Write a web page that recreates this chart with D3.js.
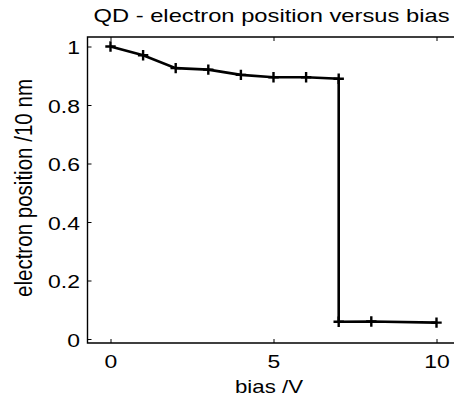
<!DOCTYPE html>
<meta charset="utf-8">
<style>
    body { margin: 0; background: #fff; }
    svg { font-family: "Liberation Sans", Arial, sans-serif; }
    .axis path, .axis line { fill: none; stroke: black; }
</style>
<body>
<script src="https://cdn.jsdelivr.net/npm/d3@7"></script>
<script>
    // values
    const bias = [0, 1, 2, 3, 4, 5, 6, 7, 7, 8, 10];
    const position = [1.0, 0.970, 0.926, 0.921, 0.903, 0.895, 0.895, 0.890, 0.059, 0.060, 0.056];
    const xTicks = [0, 5, 10];
    const yTicks = [0, 0.2, 0.4, 0.6, 0.8, 1];

    const width = 454, height = 401;
    const frame = {left: 87.5, top: 37, right: 470, bottom: 343};
    const stretch = 1.24; // glyphs in the source are drawn wider than tall

    const x = d3.scaleLinear().domain([0, 10]).range([110.5, 436.5]);
    const y = d3.scaleLinear().domain([0, 1]).range([339, 46.5]);

    const svg = d3.select('body').append('svg')
        .attr('width', width)
        .attr('height', height);

    // frame (top and left / bottom lines)
    svg.append('path')
        .attr('d', `M${frame.right},${frame.top}H${frame.left}V${frame.bottom}H${frame.right}`)
        .attr('fill', 'none')
        .attr('stroke', 'black')
        .attr('stroke-width', 1.4);

    // ticks, matlab style pointing inward
    const xAxis = d3.axisBottom(x).tickValues(xTicks).tickSize(-4).tickPadding(12);
    svg.append('g').attr('class', 'axis')
        .attr('transform', `translate(0,${frame.bottom})`)
        .call(xAxis)
        .call(g => g.select('.domain').remove())
        .selectAll('text')
        .style('font-size', '18.5px')
        .attr('fill', '#000')
        .attr('transform', `scale(${stretch},1)`);

    svg.append('g').attr('class', 'axis')
        .attr('transform', `translate(0,${frame.top})`)
        .call(d3.axisTop(x).tickValues(xTicks).tickSize(-4).tickFormat(''))
        .call(g => g.select('.domain').remove());

    const yAxis = d3.axisLeft(y).tickValues(yTicks).tickSize(-4).tickPadding(8)
        .tickFormat(d => d === 0 || d === 1 ? d3.format('d')(d) : d3.format('.1f')(d));
    svg.append('g').attr('class', 'axis')
        .attr('transform', `translate(${frame.left},0)`)
        .call(yAxis)
        .call(g => g.select('.domain').remove())
        .selectAll('text')
        .style('font-size', '18.5px')
        .attr('fill', '#000')
        .attr('x', 0)
        .attr('dy', '0.4em')
        .attr('transform', `translate(-7.5,0) scale(${stretch},1)`);

    // line
    const line = d3.line()
        .x((d, i) => x(bias[i]))
        .y(d => y(d));
    svg.append('path')
        .datum(position)
        .attr('d', line)
        .attr('fill', 'none')
        .attr('stroke', 'black')
        .attr('stroke-width', 2.6);

    // plus markers
    const m = 5.2;
    svg.selectAll('.mark')
        .data(position)
        .enter().append('path')
        .attr('class', 'mark')
        .attr('d', (d, i) => {
            const cx = x(bias[i]), cy = y(d);
            return `M${cx - m},${cy}H${cx + m}M${cx},${cy - m}V${cy + m}`;
        })
        .attr('stroke', 'black')
        .attr('stroke-width', 2.4);

    // title and labels
    svg.append('text')
        .attr('x', 93.5)
        .attr('y', 21.5)
        .attr('textLength', 356)
        .attr('lengthAdjust', 'spacingAndGlyphs')
        .style('font-size', '18.5px')
        .text('QD - electron position versus bias');

    svg.append('text')
        .attr('x', 235)
        .attr('y', 393)
        .attr('textLength', 68)
        .attr('lengthAdjust', 'spacingAndGlyphs')
        .style('font-size', '18.5px')
        .text('bias /V');

    svg.append('text')
        .attr('transform', 'translate(32,297) rotate(-90)')
        .attr('textLength', 218)
        .attr('lengthAdjust', 'spacingAndGlyphs')
        .style('font-size', '23px')
        .text('electron position /10 nm');
</script>
</body>
